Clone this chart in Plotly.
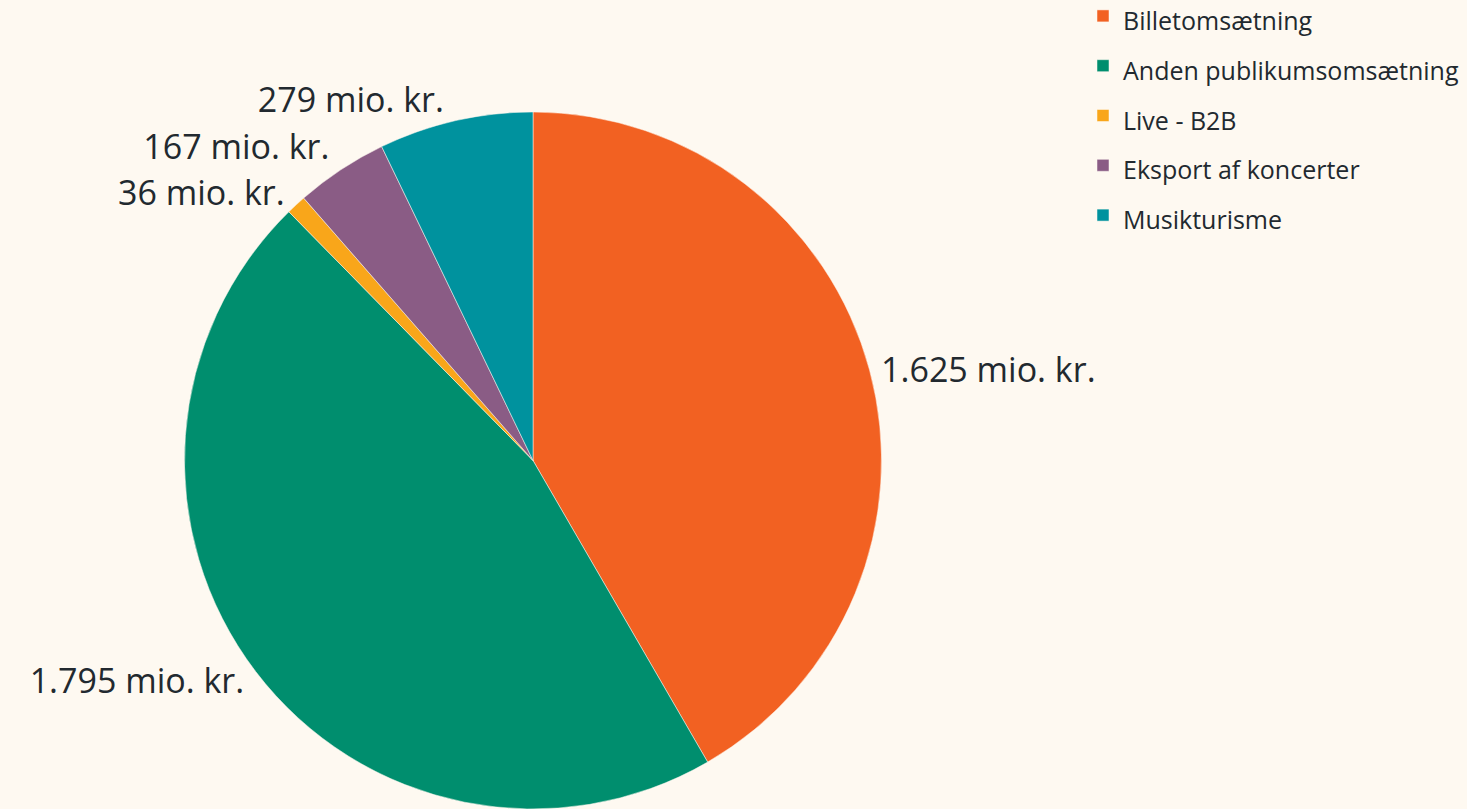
import plotly.graph_objects as go

categories = ["Billetomsætning", "Anden publikumsomsætning", "Live - B2B", "Eksport af koncerter", "Musikturisme"]
values = [1625, 1795, 36, 167, 279]
colors = ["#F26122", "#008E6E", "#F9A61A", "#8A5C85", "#00929E"]

BG = "#FEF9F1"
TXT = "#22292F"
FONT = "Open Sans, Noto Sans, sans-serif"

legend_labels = [f"<span style='font-size:25px'>{c}</span>" for c in categories]

fig = go.Figure(go.Pie(
    labels=legend_labels,
    values=values,
    sort=False,
    direction="clockwise",
    rotation=0,
    marker=dict(colors=colors, line=dict(color=BG, width=0.5)),
    textposition="outside",
    texttemplate="%{value:,} mio. kr.",
    textfont=dict(size=34, color=TXT, family=FONT),
    hoverinfo="skip",
    domain=dict(x=[184.5 / 1467, 881.5 / 1467], y=[0, 1]),
))

fig.update_layout(
    width=1467,
    height=809,
    margin=dict(l=0, r=0, t=112, b=0, autoexpand=False),
    paper_bgcolor=BG,
    plot_bgcolor=BG,
    separators=",.",
    font=dict(family=FONT, color=TXT),
    legend=dict(
        x=1083 / 1467,
        xanchor="left",
        y=(809 + 14) / 697,
        yanchor="top",
        font=dict(size=36, color=TXT, family=FONT),
        bgcolor="rgba(0,0,0,0)",
        traceorder="normal",
    ),
    showlegend=True,
)

post = (
    "document.body.style.margin='0';"
    "document.body.style.background='#FEF9F1';"
    "document.body.style.overflow='hidden';"
    "var st=document.createElement('style');"
    "st.textContent='.textline{display:none}';"
    "document.head.appendChild(st);"
)

fig.write_html("out.html", config={"displayModeBar": False}, post_script=post)
